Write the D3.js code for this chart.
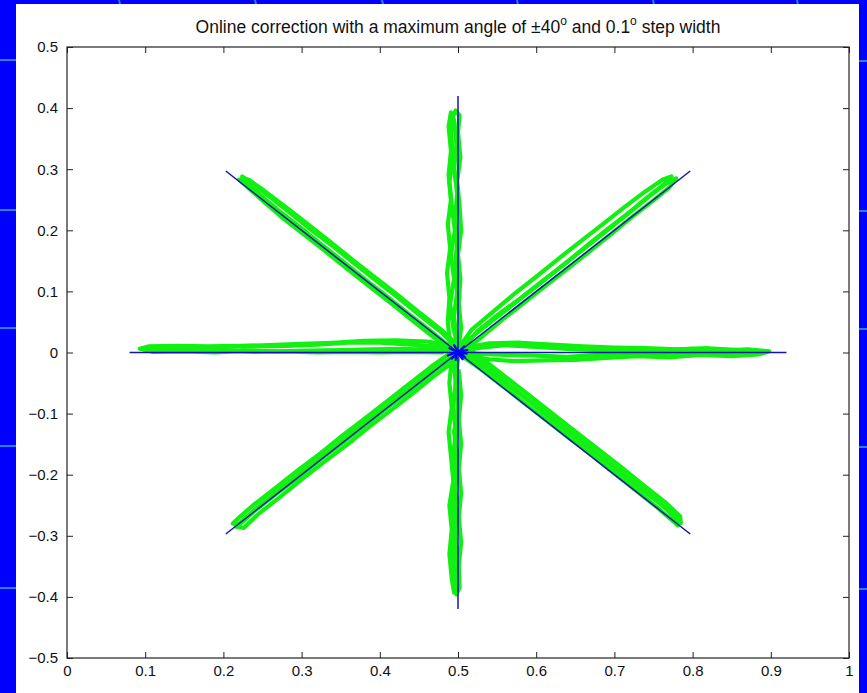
<!DOCTYPE html>
<html>
<head>
<meta charset="utf-8">
<script src="https://cdn.jsdelivr.net/npm/d3@7"></script>
<style>
  html, body { margin: 0; padding: 0; background: #0000ff; }
  svg { display: block; }
</style>
</head>
<body>
<svg id="chart" width="867" height="693"></svg>
<script>
// Axis ranges and tick labels
const xTicks = [0, 0.1, 0.2, 0.3, 0.4, 0.5, 0.6, 0.7, 0.8, 0.9, 1];
const xTickLabels = ["0", "0.1", "0.2", "0.3", "0.4", "0.5", "0.6", "0.7", "0.8", "0.9", "1"];
const yTicks = [-0.5, -0.4, -0.3, -0.2, -0.1, 0, 0.1, 0.2, 0.3, 0.4, 0.5];
const yTickLabels = ["\u22120.5", "\u22120.4", "\u22120.3", "\u22120.2", "\u22120.1", "0", "0.1", "0.2", "0.3", "0.4", "0.5"];

// Reference star: centre and the eight target points
const centre = [0.5, 0];
const targets = [
  [0.92, 0], [0.797, 0.297], [0.5, 0.42], [0.203, 0.297],
  [0.08, 0], [0.203, -0.297], [0.5, -0.42], [0.797, -0.297]
];
// Small jitter of the reference pointer around the centre
const centreBlob = [
  [0.5, 0], [0.512, 0.004], [0.501, 0.002], [0.509, -0.008], [0.499, -0.001],
  [0.497, -0.012], [0.498, 0], [0.487, -0.005], [0.499, 0.001], [0.489, 0.007],
  [0.5, 0.001], [0.495, 0.012], [0.501, 0], [0.508, 0.010], [0.5, 0],
  [0.506, -0.011], [0.5, -0.001], [0.492, -0.010], [0.5, 0], [0.511, -0.002], [0.5, 0]
];

// Measured trajectories (out to the target and back), one pair per direction
const armRight1 = [[0.505,0.003],[0.53,0.008],[0.56,0.012],[0.60,0.009],[0.64,0.006],[0.68,0.004],[0.72,0.001],[0.76,0.004],[0.80,0.006],[0.84,0.003],[0.87,0.005],[0.898,0.002],[0.885,-0.003],[0.85,-0.006],[0.81,-0.004],[0.77,-0.008],[0.73,-0.006],[0.69,-0.009],[0.65,-0.012],[0.61,-0.013],[0.57,-0.014],[0.54,-0.011],[0.51,-0.005]];
const armRight2 = [[0.51,0.008],[0.54,0.015],[0.58,0.016],[0.62,0.013],[0.66,0.010],[0.70,0.008],[0.74,0.007],[0.78,0.005],[0.82,0.007],[0.86,0.004],[0.893,0.001],[0.875,0.000],[0.84,-0.002],[0.80,-0.001],[0.76,-0.003],[0.72,-0.001],[0.68,-0.004],[0.64,-0.007],[0.60,-0.005],[0.56,-0.004],[0.52,-0.002]];
const armLeft1 = [[0.495,0.005],[0.47,0.010],[0.44,0.013],[0.40,0.016],[0.36,0.016],[0.32,0.013],[0.28,0.011],[0.24,0.010],[0.20,0.009],[0.16,0.008],[0.12,0.009],[0.095,0.006],[0.11,0.001],[0.15,0.002],[0.19,0.000],[0.23,0.003],[0.27,0.002],[0.31,0.003],[0.35,0.004],[0.39,0.005],[0.43,0.006],[0.47,0.004],[0.495,0.001]];
const armLeft2 = [[0.49,0.012],[0.46,0.018],[0.42,0.020],[0.38,0.019],[0.34,0.016],[0.30,0.014],[0.26,0.012],[0.22,0.011],[0.18,0.010],[0.14,0.011],[0.105,0.010],[0.093,0.006],[0.12,0.003],[0.16,0.005],[0.20,0.003],[0.24,0.001],[0.28,0.002],[0.32,0.000],[0.36,0.001],[0.40,0.000],[0.44,0.001],[0.48,0.000]];
const armUp1 = [[0.500,0.01],[0.494,0.04],[0.490,0.08],[0.495,0.12],[0.491,0.16],[0.496,0.20],[0.492,0.24],[0.489,0.28],[0.494,0.32],[0.491,0.36],[0.493,0.385],[0.497,0.396],[0.502,0.388],[0.500,0.36],[0.503,0.32],[0.499,0.28],[0.502,0.24],[0.504,0.20],[0.500,0.16],[0.503,0.12],[0.501,0.08],[0.504,0.04],[0.501,0.01]];
const armUp2 = [[0.490,0.01],[0.487,0.05],[0.489,0.09],[0.486,0.13],[0.490,0.17],[0.487,0.21],[0.491,0.25],[0.488,0.29],[0.491,0.33],[0.488,0.37],[0.491,0.393],[0.495,0.380],[0.498,0.34],[0.495,0.30],[0.499,0.26],[0.496,0.22],[0.499,0.18],[0.496,0.14],[0.499,0.10],[0.495,0.06],[0.498,0.02]];
const armDown1 = [[0.500,-0.01],[0.497,-0.05],[0.500,-0.09],[0.495,-0.13],[0.499,-0.17],[0.495,-0.21],[0.499,-0.25],[0.495,-0.29],[0.499,-0.33],[0.495,-0.37],[0.498,-0.396],[0.502,-0.385],[0.501,-0.35],[0.504,-0.31],[0.501,-0.27],[0.504,-0.23],[0.501,-0.19],[0.504,-0.15],[0.501,-0.11],[0.504,-0.07],[0.501,-0.03]];
const armDown2 = [[0.492,-0.01],[0.489,-0.05],[0.492,-0.09],[0.488,-0.13],[0.491,-0.17],[0.494,-0.21],[0.489,-0.25],[0.492,-0.29],[0.489,-0.33],[0.492,-0.37],[0.495,-0.393],[0.497,-0.37],[0.494,-0.33],[0.497,-0.29],[0.494,-0.25],[0.497,-0.21],[0.494,-0.17],[0.497,-0.13],[0.494,-0.09],[0.497,-0.05],[0.495,-0.02]];
const armUpRight1 = [[0.506,0.006],[0.524,0.034],[0.551,0.062],[0.580,0.089],[0.608,0.117],[0.637,0.145],[0.664,0.174],[0.691,0.202],[0.720,0.230],[0.747,0.258],[0.768,0.278],[0.779,0.285],[0.770,0.270],[0.750,0.249],[0.722,0.221],[0.695,0.193],[0.668,0.165],[0.640,0.137],[0.612,0.109],[0.584,0.081],[0.556,0.053],[0.530,0.025],[0.508,0.003]];
const armUpRight2 = [[0.502,0.010],[0.518,0.038],[0.545,0.067],[0.572,0.096],[0.600,0.124],[0.628,0.153],[0.656,0.181],[0.684,0.209],[0.712,0.237],[0.740,0.264],[0.762,0.283],[0.773,0.288],[0.764,0.276],[0.742,0.254],[0.716,0.226],[0.688,0.197],[0.660,0.169],[0.632,0.141],[0.604,0.112],[0.576,0.084],[0.548,0.056],[0.521,0.029],[0.504,0.008]];
const armUpLeft1 = [[0.500,0.006],[0.478,0.034],[0.450,0.062],[0.422,0.091],[0.394,0.119],[0.366,0.147],[0.338,0.176],[0.310,0.203],[0.282,0.232],[0.254,0.260],[0.234,0.280],[0.224,0.288],[0.228,0.279],[0.245,0.260],[0.270,0.233],[0.298,0.205],[0.326,0.176],[0.354,0.148],[0.382,0.119],[0.410,0.091],[0.438,0.062],[0.466,0.034],[0.493,0.006]];
const armUpLeft2 = [[0.494,0.003],[0.469,0.025],[0.441,0.053],[0.413,0.082],[0.385,0.110],[0.357,0.138],[0.329,0.167],[0.301,0.195],[0.273,0.223],[0.247,0.252],[0.228,0.274],[0.220,0.283],[0.232,0.283],[0.252,0.265],[0.280,0.238],[0.308,0.210],[0.336,0.182],[0.364,0.153],[0.392,0.125],[0.420,0.097],[0.448,0.068],[0.476,0.040],[0.500,0.012]];
const armDownRight1 = [[0.508,-0.001],[0.533,-0.023],[0.561,-0.051],[0.590,-0.079],[0.618,-0.108],[0.646,-0.136],[0.675,-0.164],[0.703,-0.193],[0.731,-0.221],[0.760,-0.249],[0.778,-0.270],[0.785,-0.279],[0.784,-0.268],[0.764,-0.244],[0.736,-0.216],[0.708,-0.187],[0.680,-0.159],[0.652,-0.131],[0.623,-0.102],[0.595,-0.074],[0.567,-0.046],[0.538,-0.017],[0.514,0.005]];
const armDownRight2 = [[0.503,-0.004],[0.529,-0.027],[0.557,-0.055],[0.586,-0.084],[0.614,-0.112],[0.642,-0.140],[0.671,-0.168],[0.699,-0.197],[0.727,-0.225],[0.755,-0.254],[0.774,-0.275],[0.781,-0.283],[0.779,-0.272],[0.760,-0.248],[0.732,-0.219],[0.704,-0.191],[0.676,-0.163],[0.648,-0.134],[0.620,-0.106],[0.591,-0.078],[0.563,-0.050],[0.535,-0.021],[0.510,0.002]];
const armDownLeft1 = [[0.490,-0.001],[0.466,-0.023],[0.438,-0.051],[0.409,-0.080],[0.381,-0.108],[0.352,-0.136],[0.324,-0.165],[0.295,-0.193],[0.267,-0.221],[0.238,-0.250],[0.220,-0.270],[0.212,-0.280],[0.221,-0.281],[0.240,-0.259],[0.268,-0.231],[0.297,-0.203],[0.325,-0.174],[0.354,-0.146],[0.382,-0.118],[0.411,-0.089],[0.440,-0.061],[0.468,-0.032],[0.494,-0.008]];
const armDownLeft2 = [[0.495,-0.005],[0.470,-0.027],[0.442,-0.055],[0.413,-0.084],[0.385,-0.112],[0.356,-0.140],[0.328,-0.169],[0.299,-0.197],[0.271,-0.225],[0.243,-0.254],[0.224,-0.275],[0.216,-0.285],[0.226,-0.287],[0.245,-0.264],[0.273,-0.236],[0.301,-0.207],[0.329,-0.179],[0.358,-0.151],[0.386,-0.122],[0.415,-0.094],[0.443,-0.066],[0.471,-0.037],[0.498,-0.012]];

const trajectories = [
  armRight1, armRight2, armLeft1, armLeft2, armUp1, armUp2, armDown1, armDown2,
  armUpRight1, armUpRight2, armUpLeft1, armUpLeft2,
  armDownRight1, armDownRight2, armDownLeft1, armDownLeft2
];

// Slide decoration lines behind the figure panel
const slideRows = [60, 210, 328, 446, 588];
const slideCols = [119, 255, 382, 517, 653, 797];

const W = 867, H = 693;
const svg = d3.select("#chart");

// slide background
svg.append("rect").attr("width", W).attr("height", H).attr("fill", "#0000ff");
svg.selectAll("line.row").data(slideRows).join("line")
  .attr("x1", 0).attr("x2", W).attr("y1", d => d).attr("y2", d => d + 1)
  .attr("stroke", "#2f7fd6").attr("stroke-width", 2);
svg.selectAll("line.col").data(slideCols).join("line")
  .attr("x1", d => d).attr("x2", d => d + 3).attr("y1", 0).attr("y2", 12)
  .attr("stroke", "#2f7fd6").attr("stroke-width", 2);

// figure panel
svg.append("rect").attr("x", 16).attr("y", 4).attr("width", 843).attr("height", H - 4).attr("fill", "#ffffff");

const x = d3.scaleLinear().domain([0, 1]).range([67, 849]);
const y = d3.scaleLinear().domain([-0.5, 0.5]).range([658, 47]);

const plot = svg.append("g");
const line = d3.line().x(d => x(d[0])).y(d => y(d[1]));

plot.append("defs").append("clipPath").attr("id", "clip")
  .append("rect").attr("x", x(0)).attr("y", y(0.5)).attr("width", x(1) - x(0)).attr("height", y(-0.5) - y(0.5));
const marks = plot.append("g").attr("clip-path", "url(#clip)");

// measured trajectories
marks.selectAll("path.traj").data(trajectories).join("path")
  .attr("class", "traj")
  .attr("d", line)
  .attr("fill", "none")
  .attr("stroke", "#12f012")
  .attr("stroke-width", 4.2)
  .attr("stroke-linejoin", "round")
  .attr("stroke-linecap", "round");

// reference star
marks.selectAll("path.ref").data(targets).join("path")
  .attr("class", "ref")
  .attr("d", t => line([centre, t]))
  .attr("fill", "none")
  .attr("stroke", "#1414b0")
  .attr("stroke-width", 1.5);

marks.append("path")
  .attr("d", line(centreBlob))
  .attr("fill", "none")
  .attr("stroke", "#0000ff")
  .attr("stroke-width", 2.2)
  .attr("stroke-linejoin", "round");

// axes box and inward ticks
const font = "'Liberation Sans', Arial, Helvetica, sans-serif";
const axisColor = "#222";

const xBottom = d3.axisBottom(x).tickValues(xTicks).tickSizeInner(-6).tickSizeOuter(0).tickPadding(7)
  .tickFormat((d, i) => xTickLabels[i]);
const xTop = d3.axisTop(x).tickValues(xTicks).tickSizeInner(-6).tickSizeOuter(0).tickFormat("");
const yLeft = d3.axisLeft(y).tickValues(yTicks).tickSizeInner(-6).tickSizeOuter(0).tickPadding(9)
  .tickFormat((d, i) => yTickLabels[i]);
const yRight = d3.axisRight(y).tickValues(yTicks).tickSizeInner(-6).tickSizeOuter(0).tickFormat("");

function styleAxis(g) {
  g.select(".domain").remove();
  g.selectAll(".tick line").attr("stroke", axisColor);
  g.selectAll(".tick text").attr("fill", "#111").style("font-family", font).style("font-size", "15px");
}
plot.append("g").attr("transform", `translate(0,${y(-0.5)})`).call(xBottom).call(styleAxis);
plot.append("g").attr("transform", `translate(0,${y(0.5)})`).call(xTop).call(styleAxis);
plot.append("g").attr("transform", `translate(${x(0)},0)`).call(yLeft).call(styleAxis);
plot.append("g").attr("transform", `translate(${x(1)},0)`).call(yRight).call(styleAxis);

plot.append("rect")
  .attr("x", x(0)).attr("y", y(0.5))
  .attr("width", x(1) - x(0)).attr("height", y(-0.5) - y(0.5))
  .attr("fill", "none").attr("stroke", axisColor).attr("stroke-width", 1.2);

// title with superscript degree marks
const title = svg.append("text")
  .attr("x", (x(0) + x(1)) / 2).attr("y", 33)
  .attr("text-anchor", "middle")
  .style("font-family", font).style("font-size", "17.5px").attr("fill", "#111");
title.append("tspan").text("Online correction with a maximum angle of \u00b140");
title.append("tspan").attr("dy", -8).style("font-size", "12px").text("o");
title.append("tspan").attr("dy", 8).text(" and 0.1");
title.append("tspan").attr("dy", -8).style("font-size", "12px").text("o");
title.append("tspan").attr("dy", 8).text(" step width");
</script>
</body>
</html>
